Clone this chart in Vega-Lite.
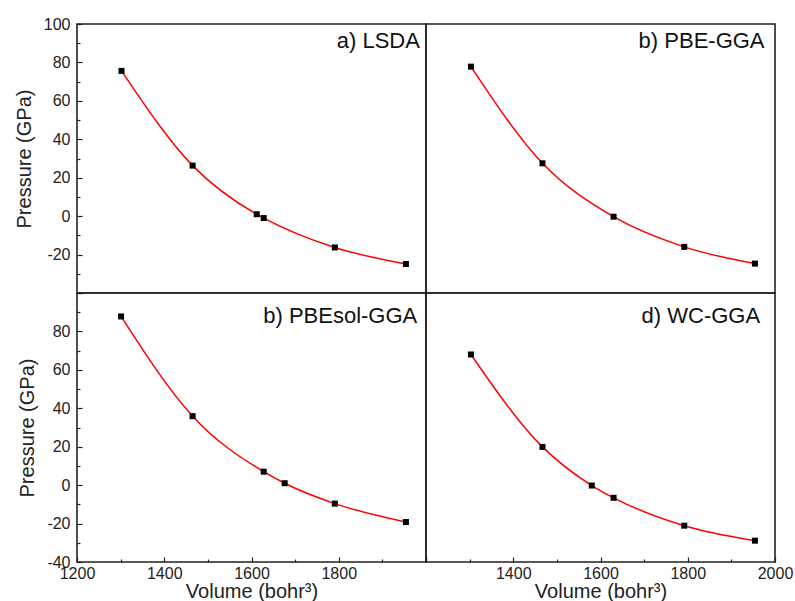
{
  "$schema": "https://vega.github.io/schema/vega-lite/v6.json",
  "padding": {"left": 13, "top": 15, "right": 0, "bottom": 0},
  "background": "white",
  "config": {
    "view": {"stroke": "#222", "strokeWidth": 1.6},
    "font": "Liberation Sans",
    "axis": {
      "domain": false, "grid": false,
      "labelFont": "Liberation Sans", "labelFontSize": 16, "labelColor": "#222",
      "titleFont": "Liberation Sans", "titleFontSize": 20, "titleFontWeight": "normal", "titleColor": "#222",
      "tickColor": "#222", "tickWidth": 1.2, "labelOverlap": false, "labelFlush": false
    }
  },
  "datasets": {
    "pts": [
      {"panel": "a", "volume": 1302, "pressure": 75.6},
      {"panel": "a", "volume": 1465, "pressure": 26.3},
      {"panel": "a", "volume": 1612, "pressure": 1.0},
      {"panel": "a", "volume": 1628, "pressure": -1.0},
      {"panel": "a", "volume": 1791, "pressure": -16.3},
      {"panel": "a", "volume": 1954, "pressure": -24.9},
      {"panel": "b", "volume": 1303, "pressure": 77.8},
      {"panel": "b", "volume": 1467, "pressure": 27.5},
      {"panel": "b", "volume": 1630, "pressure": -0.3},
      {"panel": "b", "volume": 1792, "pressure": -16.0},
      {"panel": "b", "volume": 1954, "pressure": -24.7},
      {"panel": "c", "volume": 1301, "pressure": 87.8},
      {"panel": "c", "volume": 1465, "pressure": 35.9},
      {"panel": "c", "volume": 1628, "pressure": 7.0},
      {"panel": "c", "volume": 1676, "pressure": 1.0},
      {"panel": "c", "volume": 1791, "pressure": -9.6},
      {"panel": "c", "volume": 1954, "pressure": -19.2},
      {"panel": "d", "volume": 1303, "pressure": 68.0},
      {"panel": "d", "volume": 1467, "pressure": 19.9},
      {"panel": "d", "volume": 1580, "pressure": -0.2},
      {"panel": "d", "volume": 1630, "pressure": -6.6},
      {"panel": "d", "volume": 1792, "pressure": -21.1},
      {"panel": "d", "volume": 1954, "pressure": -28.9}
    ]
  },
  "columns": 2,
  "spacing": 0,
  "bounds": "flush",
  "concat": [
    {
      "width": 349, "height": 269,
      "encoding": {
        "x": {"field": "volume", "type": "quantitative", "scale": {"domain": [1200, 2000], "nice": false, "zero": false}, "axis": null},
        "y": {"field": "pressure", "type": "quantitative", "scale": {"domain": [-40, 100], "nice": false, "zero": false},
          "axis": {"title": "Pressure (GPa)", "values": [-40,-30,-20,-10,0,10,20,30,40,50,60,70,80,90,100],
            "labelExpr": "datum.value % 20 === 0 && datum.value > -40 ? replace(datum.label, '\u2212', '-') : ''",
            "tickSize": {"condition": {"test": "datum.value % 20 === 0", "value": -5}, "value": -3},
            "labelPadding": 12, "titlePadding": 9}}
      },
      "layer": [
        {"data": {"name": "pts"}, "transform": [{"filter": "datum.panel === 'a'"}],
         "mark": {"type": "line", "color": "#ff0000", "strokeWidth": 1.5, "interpolate": "monotone"}},
        {"data": {"name": "pts"}, "transform": [{"filter": "datum.panel === 'a'"}],
         "mark": {"type": "point", "shape": "square", "filled": true, "color": "#000", "size": 36, "opacity": 1}},
        {"data": {"name": "pts"}, "transform": [{"filter": "datum.panel === 'a' && datum.volume > 1900"}],
         "mark": {"type": "text", "align": "right", "baseline": "alphabetic", "fontSize": 22, "color": "#111", "text": "a) LSDA"},
         "encoding": {"x": {"datum": 1986, "type": "quantitative"}, "y": {"datum": 87.5, "type": "quantitative"}}}
      ]
    },
    {
      "width": 349, "height": 269,
      "encoding": {
        "x": {"field": "volume", "type": "quantitative", "scale": {"domain": [1200, 2000], "nice": false, "zero": false}, "axis": null},
        "y": {"field": "pressure", "type": "quantitative", "scale": {"domain": [-40, 100], "nice": false, "zero": false}, "axis": null}
      },
      "layer": [
        {"data": {"name": "pts"}, "transform": [{"filter": "datum.panel === 'b'"}],
         "mark": {"type": "line", "color": "#ff0000", "strokeWidth": 1.5, "interpolate": "monotone"}},
        {"data": {"name": "pts"}, "transform": [{"filter": "datum.panel === 'b'"}],
         "mark": {"type": "point", "shape": "square", "filled": true, "color": "#000", "size": 36, "opacity": 1}},
        {"data": {"name": "pts"}, "transform": [{"filter": "datum.panel === 'b' && datum.volume > 1900"}],
         "mark": {"type": "text", "align": "right", "baseline": "alphabetic", "fontSize": 22, "color": "#111", "text": "b) PBE-GGA"},
         "encoding": {"x": {"datum": 1976, "type": "quantitative"}, "y": {"datum": 87.5, "type": "quantitative"}}}
      ]
    },
    {
      "width": 349, "height": 269,
      "encoding": {
        "x": {"field": "volume", "type": "quantitative", "scale": {"domain": [1200, 2000], "nice": false, "zero": false},
          "axis": {"title": "Volume (bohr³)", "values": [1200,1300,1400,1500,1600,1700,1800,1900,2000],
            "labelExpr": "datum.value % 200 === 0 && datum.value < 2000 ? datum.label : ''",
            "format": "d",
            "tickSize": {"condition": {"test": "datum.value % 200 === 0", "value": -5}, "value": -3},
            "labelPadding": 8, "titlePadding": -2}},
        "y": {"field": "pressure", "type": "quantitative", "scale": {"domain": [-40, 100], "nice": false, "zero": false},
          "axis": {"title": "Pressure (GPa)", "values": [-40,-30,-20,-10,0,10,20,30,40,50,60,70,80,90,100],
            "labelExpr": "datum.value % 20 === 0 && datum.value < 100 ? replace(datum.label, '\u2212', '-') : ''",
            "tickSize": {"condition": {"test": "datum.value % 20 === 0", "value": -5}, "value": -3},
            "labelPadding": 12, "titlePadding": 9}}
      },
      "layer": [
        {"data": {"name": "pts"}, "transform": [{"filter": "datum.panel === 'c'"}],
         "mark": {"type": "line", "color": "#ff0000", "strokeWidth": 1.5, "interpolate": "monotone"}},
        {"data": {"name": "pts"}, "transform": [{"filter": "datum.panel === 'c'"}],
         "mark": {"type": "point", "shape": "square", "filled": true, "color": "#000", "size": 36, "opacity": 1}},
        {"data": {"name": "pts"}, "transform": [{"filter": "datum.panel === 'c' && datum.volume > 1900"}],
         "mark": {"type": "text", "align": "right", "baseline": "alphabetic", "fontSize": 22, "color": "#111", "text": "b) PBEsol-GGA"},
         "encoding": {"x": {"datum": 1980, "type": "quantitative"}, "y": {"datum": 84.5, "type": "quantitative"}}}
      ]
    },
    {
      "width": 349, "height": 269,
      "encoding": {
        "x": {"field": "volume", "type": "quantitative", "scale": {"domain": [1200, 2000], "nice": false, "zero": false},
          "axis": {"title": "Volume (bohr³)", "values": [1200,1300,1400,1500,1600,1700,1800,1900,2000],
            "labelExpr": "datum.value % 200 === 0 && datum.value > 1200 ? datum.label : ''",
            "format": "d",
            "tickSize": {"condition": {"test": "datum.value % 200 === 0", "value": -5}, "value": -3},
            "labelPadding": 8, "titlePadding": -2}},
        "y": {"field": "pressure", "type": "quantitative", "scale": {"domain": [-40, 100], "nice": false, "zero": false}, "axis": null}
      },
      "layer": [
        {"data": {"name": "pts"}, "transform": [{"filter": "datum.panel === 'd'"}],
         "mark": {"type": "line", "color": "#ff0000", "strokeWidth": 1.5, "interpolate": "monotone"}},
        {"data": {"name": "pts"}, "transform": [{"filter": "datum.panel === 'd'"}],
         "mark": {"type": "point", "shape": "square", "filled": true, "color": "#000", "size": 36, "opacity": 1}},
        {"data": {"name": "pts"}, "transform": [{"filter": "datum.panel === 'd' && datum.volume > 1900"}],
         "mark": {"type": "text", "align": "right", "baseline": "alphabetic", "fontSize": 22, "color": "#111", "text": "d) WC-GGA"},
         "encoding": {"x": {"datum": 1966, "type": "quantitative"}, "y": {"datum": 84.5, "type": "quantitative"}}}
      ]
    }
  ]
}
